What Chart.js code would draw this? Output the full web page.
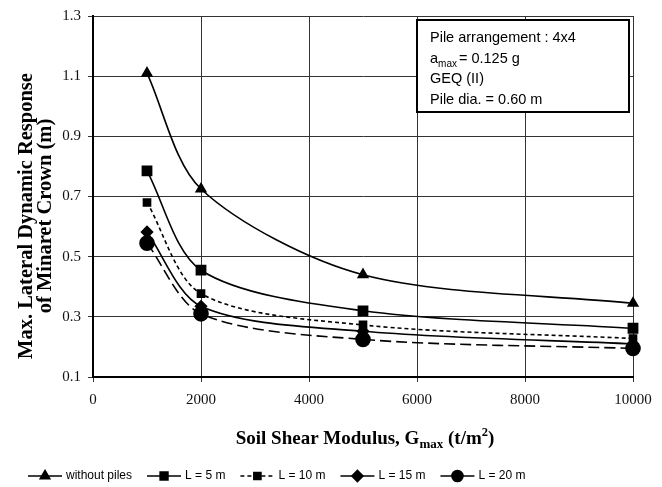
<!DOCTYPE html>
<html>
<head>
<meta charset="utf-8">
<script src="https://cdn.jsdelivr.net/npm/chart.js@4.4.1/dist/chart.umd.min.js"></script>
<style>
  html, body { margin: 0; padding: 0; background: #fff; }
  #wrap { width: 662px; height: 487px; }
</style>
</head>
<body>
<div id="wrap"><canvas id="minaretChart" width="662" height="487"></canvas></div>
<script>
// values
const gmax = [1000, 2000, 5000, 10000];
const withoutPiles = [1.11, 0.725, 0.44, 0.345];
const pileL5 = [0.785, 0.455, 0.32, 0.262];
const pileL10 = [0.68, 0.377, 0.273, 0.228];
const pileL15 = [0.582, 0.335, 0.252, 0.21];
const pileL20 = [0.545, 0.31, 0.225, 0.195];
const seriesLabels = ["without piles", "L = 5 m", "L = 10 m", "L = 15 m", "L = 20 m"];
const xTicks = [0, 2000, 4000, 6000, 8000, 10000];
const yTicks = [0.1, 0.3, 0.5, 0.7, 0.9, 1.1, 1.3];

function pts(values) {
  return gmax.map((g, i) => ({ x: g, y: values[i] }));
}

function series(label, values, style, radius, dash, legendDash) {
  return {
    label: label,
    data: pts(values),
    borderColor: "#000",
    backgroundColor: "#000",
    pointBackgroundColor: "#000",
    pointBorderColor: "#000",
    borderWidth: 1.6,
    borderDash: dash,
    pointStyle: style,
    pointRadius: radius,
    tension: 0.3,
    clip: false,
    legendDash: legendDash,
  };
}

const serif = "'Liberation Serif', 'Times New Roman', serif";
const sans = "'Liberation Sans', Arial, sans-serif";

// titles, info box and legend drawn straight on the canvas
const decorations = {
  id: "decorations",
  afterDraw(chart) {
    const ctx = chart.ctx;
    ctx.save();
    ctx.fillStyle = "#000";

    // y title
    ctx.save();
    ctx.translate(27, 216);
    ctx.rotate(-Math.PI / 2);
    ctx.font = "bold 20.5px " + serif;
    ctx.textAlign = "center";
    ctx.textBaseline = "middle";
    ctx.fillText("Max. Lateral Dynamic Response", 0, 0);
    ctx.fillText("of Minaret Crown (m)", 0, 19);
    ctx.restore();

    // x title with sub / superscript
    const parts = [
      ["Soil Shear Modulus, G", 19, 0],
      ["max", 13, 4],
      [" (t/m", 19, 0],
      ["2", 12.5, -8],
      [")", 19, 0],
    ];
    let total = 0;
    parts.forEach(p => {
      ctx.font = "bold " + p[1] + "px " + serif;
      total += ctx.measureText(p[0]).width;
    });
    let x = 365 - total / 2;
    ctx.textAlign = "left";
    ctx.textBaseline = "alphabetic";
    parts.forEach(p => {
      ctx.font = "bold " + p[1] + "px " + serif;
      ctx.fillText(p[0], x, 444 + p[2]);
      x += ctx.measureText(p[0]).width;
    });

    // info box
    ctx.fillStyle = "#fff";
    ctx.fillRect(417, 20, 212, 92);
    ctx.strokeStyle = "#000";
    ctx.lineWidth = 2;
    ctx.strokeRect(417, 20, 212, 92);
    ctx.fillStyle = "#000";
    ctx.font = "14.5px " + sans;
    ctx.fillText("Pile arrangement : 4x4", 430, 42);
    ctx.fillText("a", 430, 63);
    let ax = 430 + ctx.measureText("a").width;
    ctx.font = "10px " + sans;
    ctx.fillText("max", ax, 67);
    ax += ctx.measureText("max").width + 2;
    ctx.font = "14.5px " + sans;
    ctx.fillText("= 0.125 g", ax, 63);
    ctx.fillText("GEQ (II)", 430, 83);
    ctx.fillText("Pile dia. = 0.60 m", 430, 104);

    // legend
    let lx = 28;
    const ly = 476;
    ctx.font = "12px " + sans;
    ctx.textBaseline = "middle";
    chart.data.datasets.forEach(ds => {
      ctx.strokeStyle = "#000";
      ctx.lineWidth = 1.6;
      ctx.setLineDash(ds.legendDash);
      ctx.beginPath();
      ctx.moveTo(lx, ly);
      ctx.lineTo(lx + 34, ly);
      ctx.stroke();
      ctx.setLineDash([]);
      ctx.fillStyle = "#000";
      Chart.helpers.drawPoint(ctx, {
        pointStyle: ds.pointStyle,
        radius: Math.min(ds.pointRadius, 5.5),
        rotation: 0,
        borderWidth: 1,
      }, lx + 17, ly);
      ctx.fillText(ds.label, lx + 38, ly);
      lx += 38 + ctx.measureText(ds.label).width + 15;
    });
    ctx.restore();
  },
};

new Chart(document.getElementById("minaretChart"), {
  type: "line",
  data: {
    datasets: [
      series(seriesLabels[0], withoutPiles, "triangle", 5.5, [], []),
      series(seriesLabels[1], pileL5, "rect", 6.5, [], []),
      series(seriesLabels[2], pileL10, "rect", 5, [4, 3], [4, 3]),
      series(seriesLabels[3], pileL15, "rectRot", 5.5, [], []),
      series(seriesLabels[4], pileL20, "circle", 7, [11, 5], []),
    ],
  },
  options: {
    responsive: false,
    animation: false,
    devicePixelRatio: 1,
    layout: { padding: { top: 16, right: 29, left: 0, bottom: 0 } },
    plugins: {
      legend: { display: false },
      tooltip: { enabled: false },
    },
    scales: {
      x: {
        type: "linear",
        min: 0,
        max: 10000,
        afterBuildTicks: s => { s.ticks = xTicks.map(v => ({ value: v })); },
        afterFit: s => { s.height = 110; },
        grid: { color: "#333", lineWidth: 1, tickLength: 5 },
        border: { color: "#000", width: 2 },
        ticks: {
          color: "#111",
          padding: 9,
          maxRotation: 0,
          font: { family: serif, size: 15 },
          callback: v => String(v),
        },
      },
      y: {
        type: "linear",
        min: 0.1,
        max: 1.3,
        afterBuildTicks: s => { s.ticks = yTicks.map(v => ({ value: v })); },
        afterFit: s => { s.width = 93; },
        grid: { color: "#333", lineWidth: 1, tickLength: 5 },
        border: { color: "#000", width: 2 },
        ticks: {
          color: "#111",
          padding: 7,
          font: { family: serif, size: 15 },
          callback: v => v.toFixed(1),
        },
      },
    },
  },
  plugins: [decorations],
});
</script>
</body>
</html>
